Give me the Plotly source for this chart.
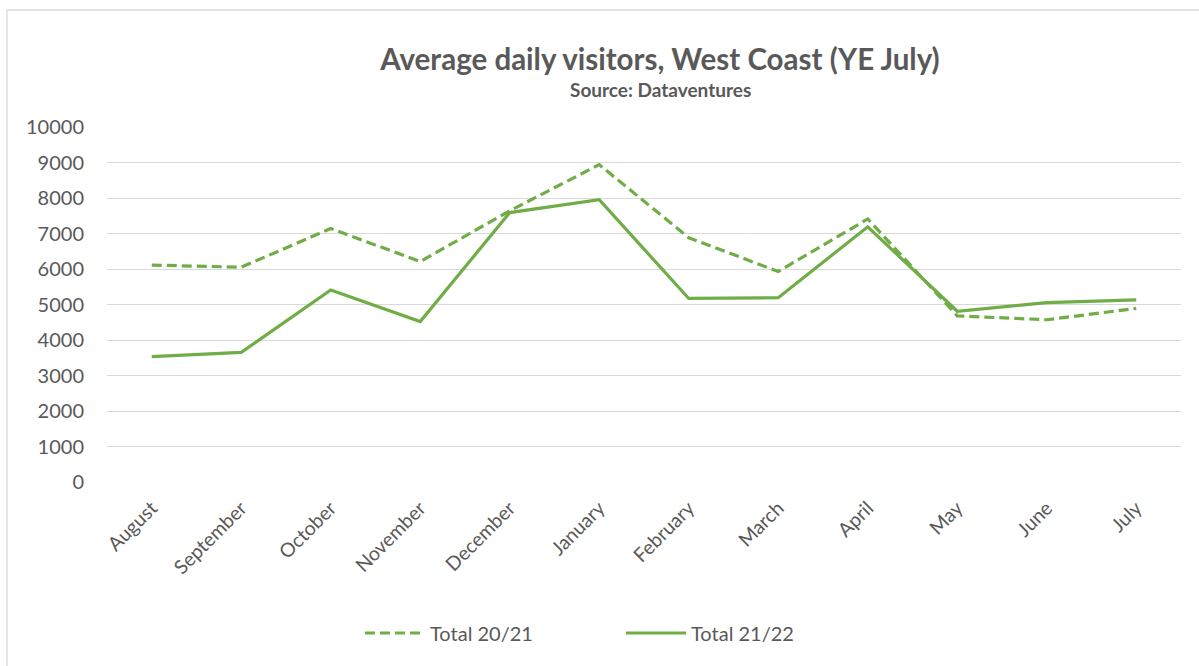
import plotly.graph_objects as go

months = ["August", "September", "October", "November", "December", "January",
          "February", "March", "April", "May", "June", "July"]
total_2021 = [6110, 6050, 7140, 6210, 7640, 8940, 6880, 5930, 7410, 4680, 4570, 4890]
total_2122 = [3530, 3650, 5410, 4520, 7590, 7950, 5170, 5190, 7190, 4810, 5050, 5130]

GREEN = "#70AD47"
TEXT = "#595959"
FONT = "Lato, 'Open Sans', sans-serif"

W, H = 1199, 666
L, R, T, B = 107, 1181, 127, 482

fig = go.Figure()
fig.add_trace(go.Scatter(x=months, y=total_2021, name="Total 20/21", mode="lines",
                         line=dict(color=GREEN, width=3.2, dash="10px,5px")))
fig.add_trace(go.Scatter(x=months, y=total_2122, name="Total 21/22", mode="lines",
                         line=dict(color=GREEN, width=3.2)))

def px_x(p):
    return (p - L) / (R - L)

def px_y(p):
    return (B - p) / (B - T)

fig.update_layout(
    width=W, height=H,
    margin=dict(l=L, r=W - R, t=T, b=H - B, autoexpand=False),
    paper_bgcolor="white", plot_bgcolor="white",
    font=dict(family=FONT, color=TEXT, size=19),
    title=dict(text="<b>Average daily visitors, West Coast (YE July)</b>",
               font=dict(size=29.5, color=TEXT, family=FONT),
               x=660 / W, xanchor="center", xref="container",
               y=1 - 60 / H, yanchor="middle", yref="container"),
    showlegend=True,
    legend=dict(orientation="h", x=px_x(360), xanchor="left", y=px_y(633), yanchor="middle",
                font=dict(size=20, color=TEXT), itemwidth=60, entrywidth=186, entrywidthmode="pixels",
                bgcolor="rgba(0,0,0,0)"),
    xaxis=dict(type="category", tickangle=-45, showgrid=False, zeroline=False,
               showline=False, ticks="", ticklabelstandoff=10,
               tickfont=dict(size=19.5, color=TEXT), range=[-0.5, 11.5]),
    yaxis=dict(range=[0, 10000], dtick=1000, tickmode="linear", tickformat="d",
               showgrid=True, gridcolor="#D9D9D9", gridwidth=1.3, zeroline=False,
               showline=False, ticks="", ticklabelstandoff=22,
               tickfont=dict(size=20, color=TEXT)),
)

fig.add_annotation(text="<b>Source: Dataventures</b>", xref="paper", yref="paper",
                   x=px_x(660), y=px_y(90), xanchor="center", yanchor="middle",
                   showarrow=False, font=dict(size=19, color=TEXT, family=FONT))

fig.add_shape(type="rect", xref="paper", yref="paper",
              x0=px_x(7), x1=px_x(1210), y0=px_y(680), y1=px_y(10),
              line=dict(color="#D9D9D9", width=1.3), fillcolor="rgba(0,0,0,0)", layer="below")

fig.write_html("out.html", config={"displayModeBar": False},
               post_script="document.body.style.margin='0';document.body.style.padding='0';")
